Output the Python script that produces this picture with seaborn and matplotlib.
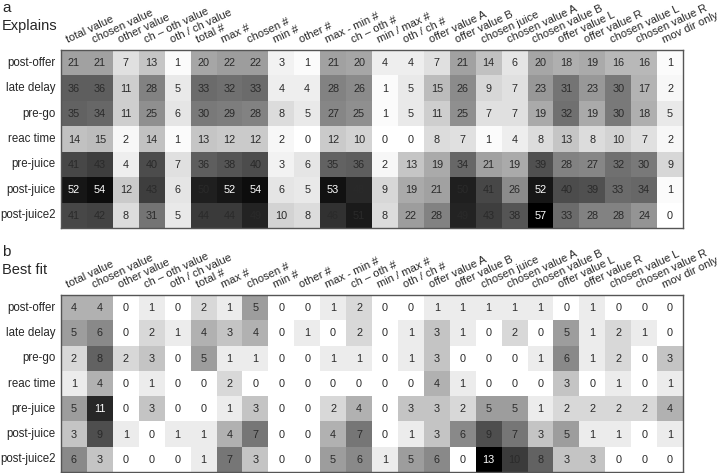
import numpy as np
import pandas as pd
import matplotlib
matplotlib.use("Agg")
import matplotlib.pyplot as plt
import seaborn as sns

# column and row labels
colunas = ["total value", "chosen value", "other value", "ch \u2013 oth value", "oth / ch value",
           "total #", "max #", "chosen #", "min #", "other #", "max - min #", "ch \u2013 oth #",
           "min / max #", "oth / ch #", "offer value A", "offer value B", "chosen juice",
           "chosen value A", "chosen value B", "offer value L", "offer value R",
           "chosen value L", "chosen value R", "mov dir only"]
linhas = ["post-offer", "late delay", "pre-go", "reac time", "pre-juice", "post-juice", "post-juice2"]

# panel a - Explains
explains = [
    [21, 21, 7, 13, 1, 20, 22, 22, 3, 1, 21, 20, 4, 4, 7, 21, 14, 6, 20, 18, 19, 16, 16, 1],
    [36, 36, 11, 28, 5, 33, 32, 33, 4, 4, 28, 26, 1, 5, 15, 26, 9, 7, 23, 31, 23, 30, 17, 2],
    [35, 34, 11, 25, 6, 30, 29, 28, 8, 5, 27, 25, 1, 5, 11, 25, 7, 7, 19, 32, 19, 30, 18, 5],
    [14, 15, 2, 14, 1, 13, 12, 12, 2, 0, 12, 10, 0, 0, 8, 7, 1, 4, 8, 13, 8, 10, 7, 2],
    [41, 43, 4, 40, 7, 36, 38, 40, 3, 6, 35, 36, 2, 13, 19, 34, 21, 19, 39, 28, 27, 32, 30, 9],
    [52, 54, 12, 43, 6, 50, 52, 54, 6, 5, 53, 48, 9, 19, 21, 50, 41, 26, 52, 40, 39, 33, 34, 1],
    [41, 42, 8, 31, 5, 44, 44, 49, 10, 8, 46, 51, 8, 22, 28, 49, 43, 38, 57, 33, 28, 28, 24, 0],
]

# panel b - Best fit
best_fit = [
    [4, 4, 0, 1, 0, 2, 1, 5, 0, 0, 1, 2, 0, 0, 1, 1, 1, 1, 1, 0, 1, 0, 0, 0],
    [5, 6, 0, 2, 1, 4, 3, 4, 0, 1, 0, 2, 0, 1, 3, 1, 0, 2, 0, 5, 1, 2, 1, 0],
    [2, 8, 2, 3, 0, 5, 1, 1, 0, 0, 1, 1, 0, 1, 3, 0, 0, 0, 1, 6, 1, 2, 0, 3],
    [1, 4, 0, 1, 0, 0, 2, 0, 0, 0, 0, 0, 0, 0, 4, 1, 0, 0, 0, 3, 0, 1, 0, 1],
    [5, 11, 0, 3, 0, 0, 1, 3, 0, 0, 2, 4, 0, 3, 3, 2, 5, 5, 1, 2, 2, 2, 2, 4],
    [3, 9, 1, 0, 1, 1, 4, 7, 0, 0, 4, 7, 0, 1, 3, 6, 9, 7, 3, 5, 1, 1, 0, 1],
    [6, 3, 0, 0, 0, 1, 7, 3, 0, 0, 5, 6, 1, 5, 6, 0, 13, 10, 8, 3, 3, 0, 0, 0],
]

sns.set_style("white")
plt.rcParams['font.family'] = ['Liberation Sans', 'DejaVu Sans']

W, H = 720, 473
fig = plt.figure(figsize=(W / 100, H / 100), dpi=100)

# (letter, title, data, white-text threshold, heatmap top px, bottom px, letter top px, title baseline px)
paineis = [
    ("a", "Explains", explains, 52, 50, 228, 0.5, 30),
    ("b", "Best fit", best_fit, 11, 295, 472, 245, 274),
]

for letra, titulo, dados, limiar, topo, base, y_letra, y_tit in paineis:
    ax = fig.add_axes([61 / W, 1 - base / H, 622 / W, (base - topo) / H])
    df = pd.DataFrame(dados, index=linhas, columns=colunas)
    sns.heatmap(df, ax=ax, cmap="gray_r", vmin=0, vmax=df.values.max(),
                cbar=False, annot=False)

    # numbers in the cells
    for i in range(df.shape[0]):
        for j in range(df.shape[1]):
            v = df.iat[i, j]
            cor = "white" if v >= limiar else "#2a2a2a"
            ax.text(j + 0.5, i + 0.52, str(v), ha="center", va="center",
                    fontsize=7.8, color=cor)

    ax.xaxis.tick_top()
    ax.set_xticks(np.arange(len(colunas)) + 0.27)
    ax.set_xticklabels(colunas, rotation=25, ha="left", va="baseline",
                       rotation_mode="anchor", fontsize=8)
    ax.set_yticklabels(linhas, rotation=0, fontsize=8.3)
    ax.tick_params(length=0, pad=4)
    ax.tick_params(axis="x", pad=5)
    ax.set_xlabel("")
    ax.set_ylabel("")
    for s in ax.spines.values():
        s.set_visible(True)
        s.set_color("#555555")
        s.set_linewidth(1)

    fig.text(2 / W, 1 - y_letra / H, letra, fontsize=11, va="top", ha="left")
    fig.text(2 / W, 1 - y_tit / H, titulo, fontsize=10.5, va="baseline", ha="left")

fig.savefig("out.png", dpi=100)
